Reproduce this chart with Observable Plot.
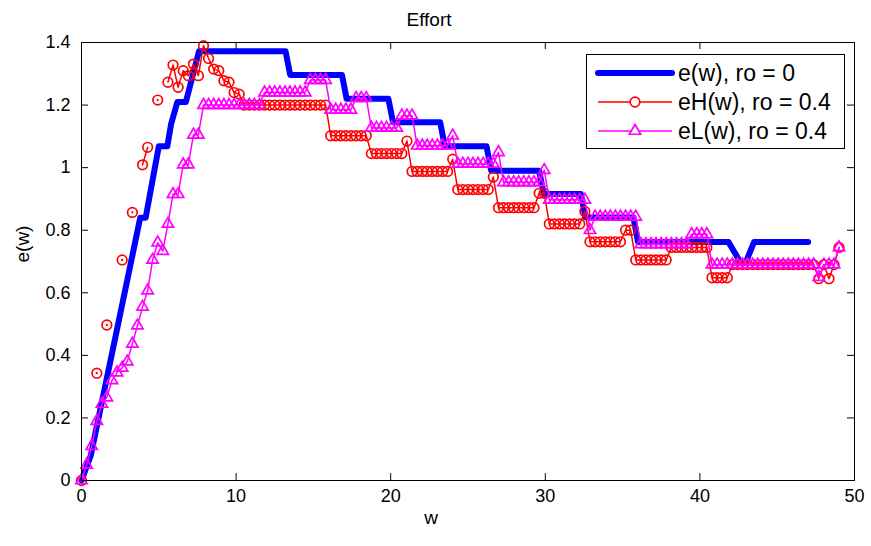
<!DOCTYPE html>
<html>
<head>
<meta charset="utf-8">
<script src="https://cdn.jsdelivr.net/npm/d3@7"></script>
<script src="https://cdn.jsdelivr.net/npm/@observablehq/plot@0.6"></script>
<style>
  body { margin: 0; background: #fff; }
  #wrap { position: relative; width: 871px; height: 546px; font-family: "Liberation Sans", Arial, Helvetica, sans-serif; }
  #legend { position: absolute; left: 586px; top: 54px; width: 259px; height: 95px; border: 1px solid #000; background: #fff; box-sizing: border-box; }
  #legend .row { position: absolute; left: 0; height: 24px; }
  #legend .lab { position: absolute; left: 91px; top: 0; font-size: 23px; line-height: 24px; white-space: nowrap; color: #000; }
  #legend svg { position: absolute; left: 0; top: 0; overflow: visible; }
</style>
</head>
<body>
<div id="wrap"></div>
<script>
// ---- texts ----
const title = "Effort";
const xLabel = "w";
const yLabel = "e(w)";
const xTicks = [0, 10, 20, 30, 40, 50];
const yTicks = [0, 0.2, 0.4, 0.6, 0.8, 1, 1.2, 1.4];
const seriesNames = ["e(w), ro = 0", "eH(w), ro = 0.4", "eL(w), ro = 0.4"];
const seriesColors = ["#0000ff", "#ff0000", "#ff00ff"];

// ---- e(w), ro = 0 (thick blue line, corner points) ----
const wE = [0, 0.6, 3.8, 4.15, 5.0, 5.55, 5.8, 6.2, 6.75, 7.6, 13.2, 13.5, 16.85, 17.15, 19.85, 20.15, 23.2, 23.5, 26.2, 26.5, 29.6, 29.9, 32.3, 32.6, 35.7, 36.0, 41.85, 42.65, 42.95, 43.5, 47.0];
const eE = [0, 0.08, 0.84, 0.84, 1.068, 1.068, 1.14, 1.21, 1.21, 1.372, 1.372, 1.296, 1.296, 1.22, 1.22, 1.145, 1.145, 1.068, 1.068, 0.99, 0.99, 0.916, 0.916, 0.841, 0.841, 0.762, 0.762, 0.695, 0.695, 0.762, 0.762];

// ---- sample points w for eH / eL ----
const wGrid = [0, 0.33, 0.66, 0.99, 1.32, 1.64, 1.97, 2.30, 2.63, 2.96, 3.29, 3.62, 3.95, 4.28, 4.60, 4.93, 5.26, 5.59, 5.92, 6.25,
  6.58, 6.91, 7.24, 7.56, 7.89, 8.22, 8.55, 8.88, 9.21, 9.54, 9.87, 10.20, 10.52, 10.85, 11.18, 11.51, 11.84, 12.17, 12.50, 12.83,
  13.16, 13.48, 13.81, 14.14, 14.47, 14.80, 15.13, 15.46, 15.79, 16.12, 16.44, 16.77, 17.10, 17.43, 17.76, 18.09, 18.42, 18.75, 19.08, 19.40,
  19.73, 20.06, 20.39, 20.72, 21.05, 21.38, 21.71, 22.04, 22.36, 22.69, 23.02, 23.35, 23.68, 24.01, 24.34, 24.67, 25.00, 25.32, 25.65, 25.98,
  26.31, 26.64, 26.97, 27.30, 27.63, 27.96, 28.28, 28.61, 28.94, 29.27, 29.60, 29.93, 30.26, 30.59, 30.92, 31.24, 31.57, 31.90, 32.23, 32.56,
  32.89, 33.22, 33.55, 33.88, 34.20, 34.53, 34.86, 35.19, 35.52, 35.85, 36.18, 36.51, 36.84, 37.16, 37.49, 37.82, 38.15, 38.48, 38.81, 39.14,
  39.47, 39.80, 40.12, 40.45, 40.78, 41.11, 41.44, 41.77, 42.10, 42.43, 42.76, 43.08, 43.41, 43.74, 44.07, 44.40, 44.73, 45.06, 45.39, 45.72,
  46.04, 46.37, 46.70, 47.03, 47.36, 47.69, 48.02, 48.35, 48.68, 49.00];

// eH(w), ro = 0.4 (null = no value drawn)
const eH = [0, null, null, 0.343, null, 0.497, null, null, 0.705, null, 0.857, null, 1.009, 1.065, null, 1.216, null, 1.273, 1.328, 1.257,
  1.31, 1.294, 1.331, 1.294, 1.39, 1.349, 1.315, 1.31, 1.278, 1.273, 1.24, 1.235, 1.2, 1.2, 1.2, 1.2, 1.2, 1.2, 1.2, 1.2,
  1.2, 1.2, 1.2, 1.2, 1.2, 1.2, 1.2, 1.2, 1.2, 1.102, 1.102, 1.102, 1.102, 1.102, 1.102, 1.102, 1.102, 1.045, 1.045, 1.045,
  1.045, 1.045, 1.045, 1.045, 1.085, 0.988, 0.988, 0.988, 0.988, 0.988, 0.988, 0.988, 0.988, 1.027, 0.93, 0.93, 0.93, 0.93, 0.93, 0.93,
  0.93, 0.97, 0.872, 0.872, 0.872, 0.872, 0.872, 0.872, 0.872, 0.872, 0.918, 0.918, 0.82, 0.82, 0.82, 0.82, 0.82, 0.82, 0.82, 0.86,
  0.763, 0.763, 0.763, 0.763, 0.763, 0.763, 0.763, 0.80, 0.80, 0.705, 0.705, 0.705, 0.705, 0.705, 0.705, 0.705, 0.745, 0.745, 0.745, 0.745,
  0.745, 0.745, 0.745, 0.745, 0.648, 0.648, 0.648, 0.648, 0.69, 0.69, 0.69, 0.69, 0.69, 0.69, 0.69, 0.69, 0.69, 0.69, 0.69, 0.69,
  0.69, 0.69, 0.69, 0.69, 0.69, 0.645, 0.69, 0.645, 0.69, 0.745];

// eL(w), ro = 0.4
const eL = [0, 0.05, 0.11, 0.19, 0.245, 0.265, 0.32, 0.345, 0.36, 0.38, 0.437, 0.495, 0.555, 0.607, 0.705, 0.76, 0.733, 0.82, 0.915, 0.915,
  1.01, 1.01, 1.105, 1.105, 1.2, 1.2, 1.2, 1.2, 1.2, 1.2, 1.2, 1.2, 1.2, 1.2, 1.2, 1.2, 1.24, 1.24, 1.24, 1.24,
  1.24, 1.24, 1.24, 1.24, 1.24, 1.28, 1.28, 1.28, 1.28, 1.185, 1.185, 1.185, 1.185, 1.185, 1.222, 1.222, 1.222, 1.127, 1.127, 1.127,
  1.127, 1.127, 1.127, 1.166, 1.166, 1.166, 1.07, 1.07, 1.07, 1.07, 1.07, 1.07, 1.07, 1.102, 1.012, 1.012, 1.012, 1.012, 1.012, 1.012,
  1.012, 1.012, 1.049, 0.953, 0.953, 0.953, 0.953, 0.953, 0.953, 0.953, 0.953, 0.992, 0.897, 0.897, 0.897, 0.897, 0.897, 0.897, 0.897, 0.897,
  0.80, 0.843, 0.843, 0.843, 0.843, 0.843, 0.843, 0.843, 0.843, 0.843, 0.755, 0.755, 0.755, 0.755, 0.755, 0.755, 0.755, 0.755, 0.755, 0.755,
  0.787, 0.787, 0.787, 0.787, 0.69, 0.69, 0.69, 0.69, 0.69, 0.69, 0.69, 0.69, 0.69, 0.69, 0.69, 0.69, 0.69, 0.69, 0.69, 0.69,
  0.69, 0.69, 0.69, 0.69, 0.69, 0.65, 0.69, 0.69, 0.69, 0.745];

// ---- tables built from the arrays ----
const blueData = wE.map((w, i) => ({w, e: eE[i]}));
const table = wGrid.map((w, i) => ({w, eH: eH[i] == null ? NaN : eH[i], eL: eL[i]}));
const hPoints = table.filter(d => !isNaN(d.eH));
const hIsolated = table.filter((d, i) => !isNaN(d.eH) && (i === 0 || isNaN(table[i - 1].eH)) && (i === table.length - 1 || isNaN(table[i + 1].eH)));

const W = 871, H = 546, mL = 81, mR = 17, mT = 42, mB = 66;
const fw = W - mL - mR, fh = H - mT - mB;
const font = "'Liberation Sans', Arial, Helvetica, sans-serif";
const lineW = 1.5, markW = 1.7, circR = 4.8, triR = 4.2;

const chart = Plot.plot({
  width: W, height: H,
  marginLeft: mL, marginRight: mR, marginTop: mT, marginBottom: mB,
  style: {fontFamily: font, background: "#fff", color: "#000", overflow: "visible"},
  x: {domain: [0, 50]},
  y: {domain: [0, 1.4]},
  marks: [
    Plot.line(blueData, {x: "w", y: "e", stroke: seriesColors[0], strokeWidth: 6, strokeLinecap: "round", strokeLinejoin: "round"}),
    Plot.line(table, {x: "w", y: "eH", stroke: seriesColors[1], strokeWidth: lineW}),
    Plot.dot(hPoints, {x: "w", y: "eH", r: circR, stroke: seriesColors[1], strokeWidth: markW, fill: "none"}),
    Plot.dot(hIsolated, {x: "w", y: "eH", r: 1.1, fill: seriesColors[1], stroke: "none"}),
    Plot.line(table, {x: "w", y: "eL", stroke: seriesColors[2], strokeWidth: lineW}),
    Plot.dot(table, {x: "w", y: "eL", symbol: "triangle", r: triR, stroke: seriesColors[2], strokeWidth: markW, fill: "none"}),
    Plot.frame({stroke: "#000", strokeWidth: 1}),
    Plot.tickX(xTicks, {x: d => d, insetTop: fh - 7, stroke: "#000"}),
    Plot.tickX(xTicks, {x: d => d, insetBottom: fh - 7, stroke: "#000"}),
    Plot.tickY(yTicks, {y: d => d, insetRight: fw - 7, stroke: "#000"}),
    Plot.tickY(yTicks, {y: d => d, insetLeft: fw - 7, stroke: "#000"}),
    Plot.axisX({ticks: xTicks, tickSize: 0, tickPadding: 9, label: null, tickFormat: d => String(d), fontSize: 18}),
    Plot.axisY({ticks: yTicks, tickSize: 0, tickPadding: 11, label: null, tickFormat: d => String(d), fontSize: 18}),
    Plot.text([title], {frameAnchor: "top", dx: -39, dy: -30, fontSize: 19, fill: "#000"}),
    Plot.text([xLabel], {frameAnchor: "bottom", dx: -37, dy: 43, fontSize: 19, fill: "#000"}),
    Plot.text([yLabel], {frameAnchor: "left", dx: -59, dy: 1, rotate: -90, fontSize: 19, fill: "#000"})
  ]
});
const wrap = document.getElementById("wrap");
wrap.appendChild(chart);

// ---- legend (inside the axes, upper right) ----
const legend = document.createElement("div");
legend.id = "legend";
const rowY = [18, 47, 76];
seriesNames.forEach((name, i) => {
  const row = document.createElement("div");
  row.className = "row";
  row.style.top = (rowY[i] - 12) + "px";
  row.style.width = "259px";
  const svg = d3.create("svg").attr("width", 90).attr("height", 24);
  const sw = i === 0 ? 6 : lineW;
  svg.append("line").attr("x1", 11).attr("x2", 85).attr("y1", 12).attr("y2", 12)
    .attr("stroke", seriesColors[i]).attr("stroke-width", sw).attr("stroke-linecap", i === 0 ? "round" : "butt");
  if (i === 1) {
    svg.append("circle").attr("cx", 48).attr("cy", 12).attr("r", circR).attr("fill", "#fff").attr("stroke", seriesColors[i]).attr("stroke-width", markW);
  }
  if (i === 2) {
    svg.append("path").attr("d", d3.symbol(d3.symbolTriangle, Math.PI * triR * triR)()).attr("transform", "translate(48,12)")
      .attr("fill", "#fff").attr("stroke", seriesColors[i]).attr("stroke-width", markW);
  }
  row.appendChild(svg.node());
  const lab = document.createElement("div");
  lab.className = "lab";
  lab.textContent = name;
  row.appendChild(lab);
  legend.appendChild(row);
});
wrap.appendChild(legend);
</script>
</body>
</html>
